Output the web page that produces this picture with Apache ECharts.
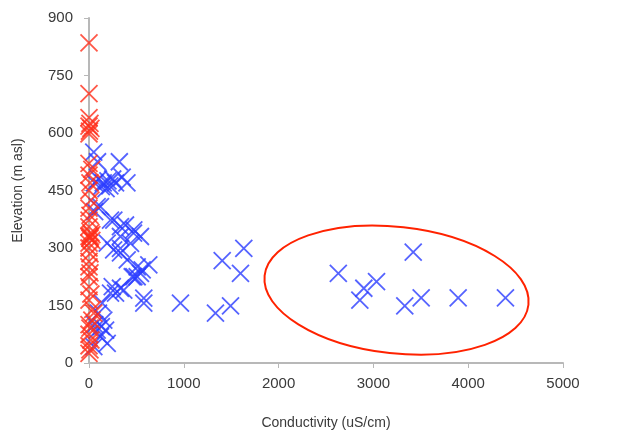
<!DOCTYPE html>
<html>
<head>
<meta charset="utf-8">
<script src="https://cdn.jsdelivr.net/npm/echarts@6/dist/echarts.min.js"></script>
<style>
html,body{margin:0;padding:0;background:#fff;}
#chart{width:624px;height:438px;}
</style>
</head>
<body>
<div id="chart"></div>
<script>
// Conductivity (uS/cm), Elevation (m asl)
var redPoints = [
  [0,835],[0,703],[0,640],[10,625],[0,618],[20,612],[5,605],[0,598],
  [0,521],[30,505],[0,490],[10,470],[0,450],[20,425],[0,404],[10,385],
  [0,373],[0,355],[20,340],[0,330],[15,330],[30,335],[10,325],[30,320],
  [0,313],[0,300],[10,285],[0,265],[0,251],[10,235],[0,225],[0,199],
  [20,180],[0,164],[40,140],[50,130],[30,112],[0,100],[10,91],[0,75],
  [20,60],[0,45],[10,34],[0,25]
];
var bluePoints = [
  [50,550],[90,525],[320,525],[350,485],[400,470],[100,480],[150,470],
  [200,475],[250,480],[130,460],[60,470],[180,455],[280,470],[220,462],
  [86,408],[121,408],[60,395],
  [227,373],[262,373],[332,356],[385,360],[473,347],[543,330],[470,339],
  [192,313],[332,330],[438,312],[260,295],[332,299],[403,269],[332,287],
  [508,251],[631,256],[561,243],[543,234],[456,225],[508,225],[473,225],
  [367,190],[280,182],[245,199],[227,182],[332,195],[578,169],[578,156],
  [139,156],[156,112],[121,69],[51,43],[192,51],[86,86],[175,86],
  [100,130],[60,100],[130,95],
  [965,156],[1334,130],[1493,149],[1405,267],[1633,299],[1598,234],
  [2630,234],[2857,164],[2899,195],[3033,212],[3331,149],[3420,289],
  [3504,170],[3894,170],[4393,170]
];
var xTicks = {min:0, max:5000, interval:1000};
var yTicks = {min:0, max:900, interval:150};
var xName = 'Conductivity (uS/cm)';
var yName = 'Elevation (m asl)';
// annotation ellipse (data space): center, semi-axes
var ellipseCenter = [3244, 190];
var ellipseRadii = [1400, 165];

var chart = echarts.init(document.getElementById('chart'));
var X = 'path://M0,0L10,10M10,0L0,10';
var font = 'Liberation Sans, Arial, sans-serif';
chart.setOption({
  animation:false,
  backgroundColor:'#fff',
  grid:{left:89, right:61, top:18, bottom:75},
  xAxis:{
    type:'value', min:xTicks.min, max:xTicks.max, interval:xTicks.interval,
    name:xName, nameLocation:'middle', nameGap:53,
    nameTextStyle:{color:'#3a3a3a', fontSize:14, fontFamily:font},
    axisLine:{show:true, lineStyle:{color:'#b8b8b8', width:2}},
    axisTick:{show:true, length:5, lineStyle:{color:'#b8b8b8'}},
    axisLabel:{color:'#3a3a3a', fontSize:15, fontFamily:font, margin:13,
               formatter:function(v){return String(v);}},
    splitLine:{show:false}
  },
  yAxis:{
    type:'value', min:yTicks.min, max:yTicks.max, interval:yTicks.interval,
    name:yName, nameLocation:'middle', nameGap:64,
    nameTextStyle:{color:'#3a3a3a', fontSize:14, fontFamily:font},
    axisLine:{show:true, lineStyle:{color:'#b8b8b8', width:2}},
    axisTick:{show:true, length:5, lineStyle:{color:'#b8b8b8'}},
    axisLabel:{color:'#3a3a3a', fontSize:15, fontFamily:font, margin:16,
               formatter:function(v){return String(v);}},
    splitLine:{show:false}
  },
  series:[
    {type:'scatter', data:bluePoints, symbol:X, symbolSize:17,
     itemStyle:{color:'transparent', borderColor:'#2a3cff', borderWidth:1.8}},
    {type:'scatter', data:redPoints, symbol:X, symbolSize:17,
     itemStyle:{color:'transparent', borderColor:'#ff2e1a', borderWidth:1.8}}
  ]
});
var c = chart.convertToPixel({gridIndex:0}, ellipseCenter);
var r1 = chart.convertToPixel({gridIndex:0}, [ellipseCenter[0]+ellipseRadii[0], ellipseCenter[1]]);
var r2 = chart.convertToPixel({gridIndex:0}, [ellipseCenter[0], ellipseCenter[1]+ellipseRadii[1]]);
chart.setOption({
  graphic:[{
    type:'ellipse', x:c[0], y:c[1], rotation:-0.11,
    shape:{cx:0, cy:0, rx:Math.abs(r1[0]-c[0]), ry:Math.abs(c[1]-r2[1])},
    style:{fill:'none', stroke:'#ff2200', lineWidth:2},
    z:100
  }]
});
</script>
</body>
</html>
